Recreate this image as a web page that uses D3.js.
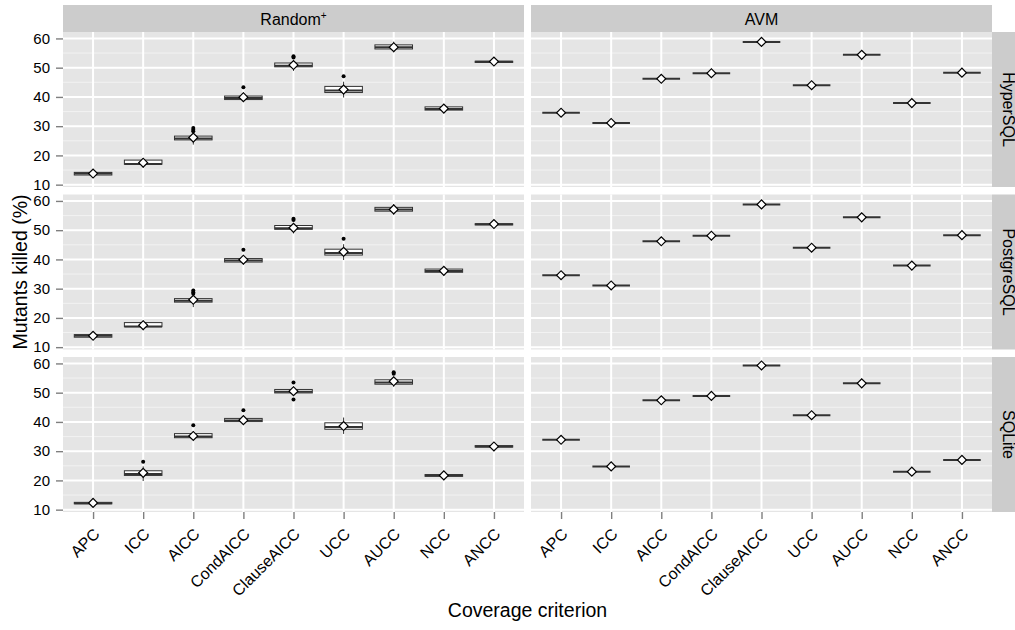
<!DOCTYPE html>
<html>
<head>
<meta charset="utf-8">
<script src="https://cdn.jsdelivr.net/npm/d3@7"></script>
<style>
  body { margin: 0; background: #ffffff; }
  #chart { width: 1015px; height: 630px; }
  text { font-family: "Liberation Sans", Arial, sans-serif; }
</style>
</head>
<body>
<div id="chart"></div>
<script>

// categories on the x axis
const criteria = ["APC", "ICC", "AICC", "CondAICC", "ClauseAICC", "UCC", "AUCC", "NCC", "ANCC"];

// facet labels
const techniques = ["Random", "AVM"];
const databases = ["HyperSQL", "PostgreSQL", "SQLite"];

// y axis ticks
const yTicks = [10, 20, 30, 40, 50, 60];
const yMinorTicks = [15, 25, 35, 45, 55];

// random+ boxplot summaries, one per criterion (whiskers, quartiles, median, mean, outliers)
const randomHyperSQL = [
  { lo: 12.9, q1: 13.3, med: 13.8, q3: 14.2, hi: 14.6, mean: 13.8, out: [] },
  { lo: 15.8, q1: 17.0, med: 17.1, q3: 18.4, hi: 19.1, mean: 17.5, out: [] },
  { lo: 23.7, q1: 25.3, med: 25.8, q3: 26.6, hi: 27.5, mean: 26.1, out: [28.3, 28.8, 29.4] },
  { lo: 38.3, q1: 39.1, med: 39.6, q3: 40.3, hi: 41.5, mean: 39.9, out: [43.3] },
  { lo: 48.9, q1: 50.3, med: 50.7, q3: 51.6, hi: 52.5, mean: 50.9, out: [53.5, 53.9] },
  { lo: 39.8, q1: 41.5, med: 42.2, q3: 43.6, hi: 45.2, mean: 42.5, out: [47.1] },
  { lo: 55.3, q1: 56.4, med: 57.0, q3: 57.8, hi: 58.9, mean: 57.0, out: [] },
  { lo: 34.5, q1: 35.5, med: 35.9, q3: 36.6, hi: 37.0, mean: 36.0, out: [] },
  { lo: 51.6, q1: 51.8, med: 52.0, q3: 52.2, hi: 52.4, mean: 52.1, out: [] }
];

const randomPostgreSQL = [
  { lo: 12.9, q1: 13.4, med: 13.9, q3: 14.3, hi: 14.7, mean: 13.9, out: [] },
  { lo: 15.8, q1: 17.0, med: 17.1, q3: 18.4, hi: 19.1, mean: 17.5, out: [] },
  { lo: 23.7, q1: 25.4, med: 25.9, q3: 26.6, hi: 27.5, mean: 26.2, out: [28.3, 28.8, 29.4] },
  { lo: 38.3, q1: 39.1, med: 39.6, q3: 40.3, hi: 41.5, mean: 39.9, out: [43.3] },
  { lo: 48.9, q1: 50.3, med: 50.7, q3: 51.6, hi: 52.5, mean: 50.8, out: [53.5, 53.9] },
  { lo: 39.8, q1: 41.5, med: 42.2, q3: 43.5, hi: 45.2, mean: 42.6, out: [47.1] },
  { lo: 55.3, q1: 56.5, med: 57.1, q3: 57.8, hi: 58.9, mean: 57.1, out: [] },
  { lo: 34.5, q1: 35.6, med: 36.0, q3: 36.7, hi: 37.1, mean: 36.1, out: [] },
  { lo: 51.6, q1: 51.8, med: 52.0, q3: 52.2, hi: 52.4, mean: 52.1, out: [] }
];

const randomSQLite = [
  { lo: 11.7, q1: 12.0, med: 12.2, q3: 12.5, hi: 12.8, mean: 12.3, out: [] },
  { lo: 19.8, q1: 21.7, med: 22.2, q3: 23.3, hi: 24.8, mean: 22.6, out: [26.4] },
  { lo: 33.8, q1: 34.6, med: 35.0, q3: 36.0, hi: 36.8, mean: 35.2, out: [38.9] },
  { lo: 39.5, q1: 40.1, med: 40.5, q3: 41.2, hi: 41.8, mean: 40.6, out: [44.0] },
  { lo: 48.9, q1: 49.9, med: 50.3, q3: 51.1, hi: 52.1, mean: 50.5, out: [47.7, 53.5] },
  { lo: 35.9, q1: 37.5, med: 38.3, q3: 39.7, hi: 41.5, mean: 38.6, out: [] },
  { lo: 52.0, q1: 52.9, med: 53.5, q3: 54.4, hi: 55.5, mean: 53.9, out: [56.5, 57.0] },
  { lo: 21.2, q1: 21.4, med: 21.7, q3: 22.0, hi: 22.2, mean: 21.7, out: [] },
  { lo: 31.2, q1: 31.4, med: 31.6, q3: 31.9, hi: 32.1, mean: 31.6, out: [] }
];

// avm gives the same score on every run
const avmHyperSQL = [34.6, 31.1, 46.2, 48.1, 58.8, 44.0, 54.4, 37.9, 48.3];
const avmPostgreSQL = [34.6, 31.1, 46.2, 48.1, 58.8, 44.0, 54.4, 37.9, 48.3];
const avmSQLite = [33.9, 24.8, 47.4, 48.9, 59.3, 42.3, 53.2, 23.0, 27.0];

// turn a constant avm score into a (flat) boxplot summary
function flatBox(v) {
  return { lo: v, q1: v, med: v, q3: v, hi: v, mean: v, out: [] };
}

const panelData = [
  [randomHyperSQL, avmHyperSQL.map(flatBox)],
  [randomPostgreSQL, avmPostgreSQL.map(flatBox)],
  [randomSQLite, avmSQLite.map(flatBox)]
];

// layout
const width = 1015;
const height = 630;
const panelLeft = 63;
const panelTop = 32;
const panelW = 461;
const panelH = 155;
const gapX = 7;
const gapY = 7.5;
const stripH = 27;

const svg = d3.select("#chart")
  .append("svg")
  .attr("width", width)
  .attr("height", height);

const xScale = d3.scalePoint()
  .domain(criteria)
  .range([0, panelW])
  .padding(0.6);

const yScale = d3.scaleLinear()
  .domain([9.2, 62.2])
  .range([panelH, 0]);

const boxW = xScale.step() * 0.75;

for (let r = 0; r < databases.length; r++) {
  for (let c = 0; c < techniques.length; c++) {

    const px = panelLeft + c * (panelW + gapX);
    const py = panelTop + r * (panelH + gapY);

    const g = svg.append("g")
      .attr("transform", `translate(${px},${py})`);

    // panel background and grid
    g.append("rect")
      .attr("width", panelW)
      .attr("height", panelH)
      .attr("fill", "#E5E5E5");

    g.selectAll(".minor")
      .data(yMinorTicks)
      .enter().append("line")
      .attr("x1", 0)
      .attr("x2", panelW)
      .attr("y1", function(d) { return yScale(d); })
      .attr("y2", function(d) { return yScale(d); })
      .attr("stroke", "#F2F2F2")
      .attr("stroke-width", 1);

    g.selectAll(".majorY")
      .data(yTicks)
      .enter().append("line")
      .attr("x1", 0)
      .attr("x2", panelW)
      .attr("y1", function(d) { return yScale(d); })
      .attr("y2", function(d) { return yScale(d); })
      .attr("stroke", "#FFFFFF")
      .attr("stroke-width", 2);

    g.selectAll(".majorX")
      .data(criteria)
      .enter().append("line")
      .attr("x1", function(d) { return xScale(d); })
      .attr("x2", function(d) { return xScale(d); })
      .attr("y1", 0)
      .attr("y2", panelH)
      .attr("stroke", "#FFFFFF")
      .attr("stroke-width", 2);

    // boxplots
    const boxes = g.selectAll(".box")
      .data(panelData[r][c])
      .enter().append("g")
      .attr("transform", function(d, i) {
        return `translate(${xScale(criteria[i])},0)`;
      });

    boxes.append("line")
      .attr("x1", 0)
      .attr("x2", 0)
      .attr("y1", function(d) { return yScale(d.hi); })
      .attr("y2", function(d) { return yScale(d.lo); })
      .attr("stroke", "#333333")
      .attr("stroke-width", 1);

    boxes.append("rect")
      .attr("x", -boxW / 2)
      .attr("width", boxW)
      .attr("y", function(d) { return yScale(d.q3); })
      .attr("height", function(d) { return yScale(d.q1) - yScale(d.q3); })
      .attr("fill", "#FFFFFF")
      .attr("stroke", "#333333")
      .attr("stroke-width", 1);

    boxes.append("line")
      .attr("x1", -boxW / 2)
      .attr("x2", boxW / 2)
      .attr("y1", function(d) { return yScale(d.med); })
      .attr("y2", function(d) { return yScale(d.med); })
      .attr("stroke", "#333333")
      .attr("stroke-width", 2);

    boxes.selectAll(".outlier")
      .data(function(d) { return d.out; })
      .enter().append("circle")
      .attr("cx", 0)
      .attr("cy", function(d) { return yScale(d); })
      .attr("r", 2)
      .attr("fill", "#000000");

    // mean as white diamond
    boxes.append("path")
      .attr("d", d3.symbol(d3.symbolSquare, 40)())
      .attr("transform", function(d) {
        return `translate(0,${yScale(d.mean)}) rotate(45)`;
      })
      .attr("fill", "#FFFFFF")
      .attr("stroke", "#000000")
      .attr("stroke-width", 1.2);

    // y axis on the left column
    if (c === 0) {
      const yAxis = svg.append("g")
        .attr("transform", `translate(${px},${py})`)
        .call(d3.axisLeft(yScale).tickValues(yTicks).tickSize(7).tickPadding(6).tickSizeOuter(0));
      yAxis.select(".domain").remove();
      yAxis.selectAll("line").attr("stroke", "#7F7F7F").attr("stroke-width", 1.4);
      yAxis.selectAll("text")
        .attr("fill", "#000000")
        .attr("font-size", 15)
        .attr("font-family", "Liberation Sans, Arial, sans-serif");
    }

    // x axis on the bottom row
    if (r === databases.length - 1) {
      const xAxis = svg.append("g")
        .attr("transform", `translate(${px},${py + panelH})`)
        .call(d3.axisBottom(xScale).tickSize(7).tickSizeOuter(0));
      xAxis.select(".domain").remove();
      xAxis.selectAll("line").attr("stroke", "#7F7F7F").attr("stroke-width", 1.4);
      xAxis.selectAll("text")
        .attr("x", 0)
        .attr("y", 0)
        .attr("dy", 0)
        .attr("transform", "translate(7,23) rotate(-45)")
        .attr("text-anchor", "end")
        .attr("fill", "#000000")
        .attr("font-size", 16)
        .attr("font-family", "Liberation Sans, Arial, sans-serif");
    }

    // top strips
    if (r === 0) {
      svg.append("rect")
        .attr("x", px)
        .attr("y", panelTop - stripH)
        .attr("width", panelW)
        .attr("height", stripH)
        .attr("fill", "#CCCCCC");

      const label = svg.append("text")
        .attr("x", px + panelW / 2)
        .attr("y", panelTop - 7.5)
        .attr("text-anchor", "middle")
        .attr("font-size", 16)
        .attr("fill", "#000000")
        .text(techniques[c]);

      if (techniques[c] === "Random") {
        label.append("tspan")
          .attr("dy", -6)
          .attr("font-size", 10)
          .text("+");
      }
    }

    // right strips
    if (c === techniques.length - 1) {
      svg.append("rect")
        .attr("x", px + panelW)
        .attr("y", py)
        .attr("width", stripH)
        .attr("height", panelH)
        .attr("fill", "#CCCCCC");

      svg.append("text")
        .attr("transform", `translate(${px + panelW + 16},${py + panelH / 2}) rotate(90)`)
        .attr("text-anchor", "middle")
        .attr("dominant-baseline", "central")
        .attr("font-size", 16)
        .attr("fill", "#000000")
        .text(databases[r]);
    }
  }
}

// axis titles
const plotMidX = panelLeft + (2 * panelW + gapX) / 2;
const plotMidY = panelTop + (3 * panelH + 2 * gapY) / 2;

svg.append("text")
  .attr("x", plotMidX)
  .attr("y", 617)
  .attr("text-anchor", "middle")
  .attr("font-size", 19.5)
  .attr("fill", "#000000")
  .text("Coverage criterion");

svg.append("text")
  .attr("transform", `translate(27,${plotMidY}) rotate(-90)`)
  .attr("text-anchor", "middle")
  .attr("font-size", 19.5)
  .attr("fill", "#000000")
  .text("Mutants killed (%)");

</script>
</body>
</html>
